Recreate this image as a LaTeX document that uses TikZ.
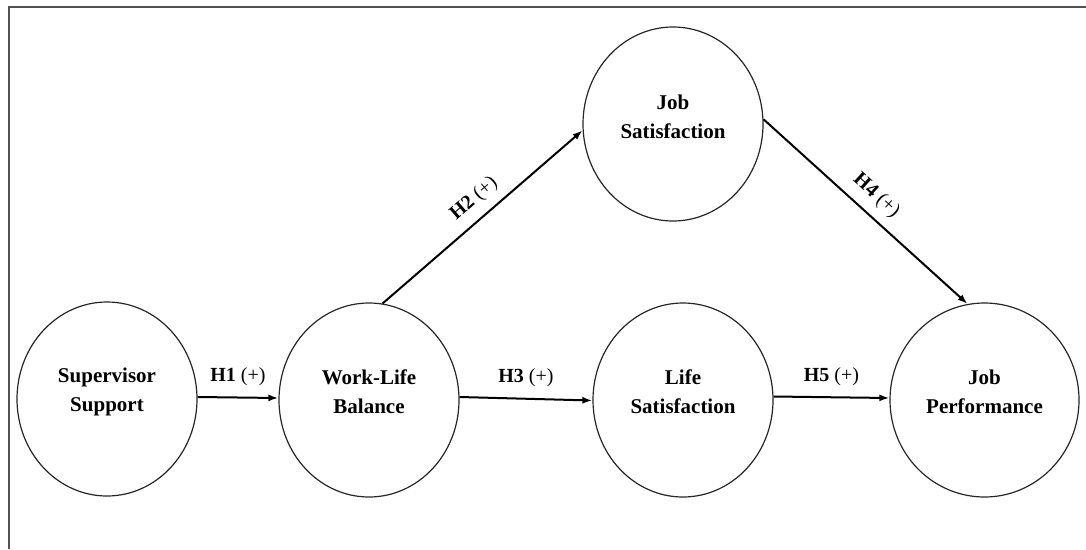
\documentclass[tikz,border=0pt]{standalone}
\usepackage{fontspec}
\setmainfont{Liberation Serif}
\usetikzlibrary{shapes.geometric,arrows.meta}
\tikzset{
  construct/.style={ellipse, draw=black!85, line width=1.2pt, minimum width=180pt, minimum height=194pt, inner sep=0pt},
  ctext/.style={font=\fontsize{21}{29}\selectfont\bfseries, align=center, inner sep=0pt},
  path/.style={line width=2pt, draw=black, -{Latex[length=10pt,width=7pt]}},
  hyp/.style={font=\fontsize{20}{24}\selectfont, inner sep=0pt},
  frameline/.style={line width=2pt, draw=black!68}
}
\begin{document}
\begin{tikzpicture}[x=1pt,y=-1pt]
\useasboundingbox (0,0) rectangle (1086,549);
\draw[frameline] (8.5,549) -- (8.5,7) -- (1086,7);

\node[construct, label={[ctext, yshift=7pt]center:Supervisor\\Support}] (ss) at (107,399) {};
\node[construct, label={[ctext, yshift=8pt]center:Work-Life\\Balance}] (wlb) at (369,400) {};
\node[construct, label={[ctext, yshift=7pt]center:Job\\Satisfaction}] (js) at (673,124) {};
\node[construct, label={[ctext, yshift=8pt]center:Life\\Satisfaction}] (ls) at (683,400) {};
\node[construct, minimum width=189pt, label={[ctext, yshift=8pt]center:Job\\Performance}] (jp) at (984.5,400) {};

\draw[path] ([yshift=2pt]ss.east) -- node[hyp, above=11pt] {\textbf{H1} (+)} ([yshift=2pt]wlb.west);
\draw[path] ([yshift=3pt]wlb.east) -- node[hyp, above=11pt] {\textbf{H3} (+)} ([yshift=-0.5pt]ls.west);
\draw[path] ([yshift=3.5pt]ls.east) -- node[hyp, above=10pt] {\textbf{H5} (+)} ([yshift=2pt]jp.west);
\draw[path] (wlb.82) -- node[hyp, pos=0.52, sloped, above=9pt] {\textbf{H2} (+)} (js.184);
\draw[path] (js.3) -- node[hyp, pos=0.49, sloped, above=9pt] {\textbf{H4} (+)} (jp.100);
\end{tikzpicture}
\end{document}
